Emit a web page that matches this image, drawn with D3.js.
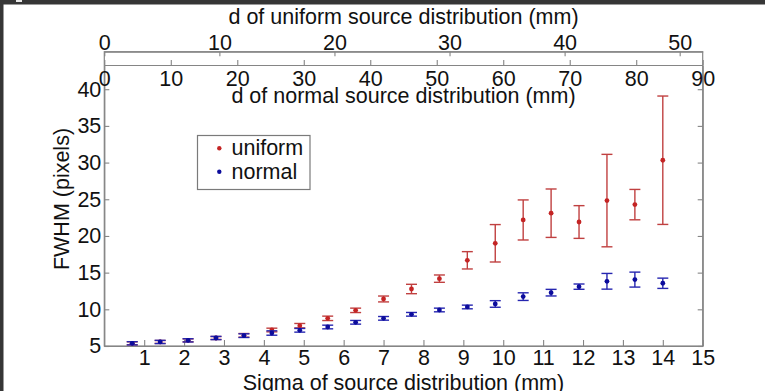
<!DOCTYPE html>
<html>
<head>
<meta charset="utf-8">
<script src="https://cdn.jsdelivr.net/npm/d3@7"></script>
<style>
  html, body { margin: 0; padding: 0; background: #ffffff; }
  svg { display: block; }
  text { font-family: "Liberation Sans", Arial, Helvetica, sans-serif; fill: #111111; }
</style>
</head>
<body>
<svg id="chart" width="765" height="391"></svg>
<script>
// Source width (sigma) in mm at which the FWHM was measured
const sigma = [0.7, 1.4, 2.1, 2.8, 3.5, 4.2, 4.9, 5.6, 6.3, 7.0,
               7.7, 8.4, 9.1, 9.8, 10.5, 11.2, 11.9, 12.6, 13.3, 14.0];

// FWHM (pixels) and its error for the uniform source distribution
const uniformFwhm = [5.37, 5.55, 5.77, 6.09, 6.45, 7.18, 7.77, 8.77, 9.86, 11.41,
                     12.77, 14.18, 16.68, 19.0, 22.18, 23.1, 21.9, 24.82, 24.27, 30.32];
const uniformErr  = [0.2, 0.2, 0.2, 0.2, 0.25, 0.25, 0.3, 0.3, 0.3, 0.4,
                     0.64, 0.5, 1.18, 2.55, 2.73, 3.3, 2.23, 6.3, 2.07, 8.75];

// FWHM (pixels) and its error for the normal source distribution
const normalFwhm = [5.37, 5.55, 5.77, 6.09, 6.41, 6.77, 7.14, 7.59, 8.23, 8.77,
                    9.32, 9.91, 10.32, 10.73, 11.73, 12.27, 13.09, 13.82, 14.05, 13.55];
const normalErr  = [0.22, 0.22, 0.22, 0.22, 0.25, 0.3, 0.25, 0.25, 0.25, 0.25,
                    0.25, 0.25, 0.25, 0.45, 0.52, 0.45, 0.36, 1.07, 1.02, 0.7];

// Axis ranges and tick values
const sigmaDomain    = [0, 15];
const normalDDomain  = [0, 90];
const uniformDDomain = [0, 52];
const fwhmDomain     = [5, 43.3];
const sigmaTicks     = [1, 2, 3, 4, 5, 6, 7, 8, 9, 10, 11, 12, 13, 14, 15];
const normalDTicks   = [0, 10, 20, 30, 40, 50, 60, 70, 80, 90];
const uniformDTicks  = [0, 10, 20, 30, 40, 50];
const fwhmTicks      = [5, 10, 15, 20, 25, 30, 35, 40];

const seriesNames = ["uniform", "normal"];
const seriesColors = { uniform: "#c42424", normal: "#0c0c9c" };
const barColors    = { uniform: "#c04040", normal: "#2626b0" };

// Plot frame
const L = 104.3, R = 702.7, T = 65, B = 346, UT = 51.7;
const FS = 21.5;
const axisColor = "#858585";

const svg = d3.select("#chart");

// dark window frame along the top and left edges
svg.append("rect").attr("x", 0).attr("y", 0).attr("width", 765).attr("height", 4.5).attr("fill", "#363636");
svg.append("rect").attr("x", 0).attr("y", 0).attr("width", 3.5).attr("height", 391).attr("fill", "#363636");
svg.append("rect").attr("x", 16).attr("y", 0).attr("width", 6).attr("height", 2).attr("fill", "#e8e8e8");

const x  = d3.scaleLinear().domain(sigmaDomain).range([L, R]);
const xn = d3.scaleLinear().domain(normalDDomain).range([L, R]);
const xu = d3.scaleLinear().domain(uniformDDomain).range([L, R]);
const y  = d3.scaleLinear().domain(fwhmDomain).range([B, T]);

function styleAxis(g) {
  g.select(".domain").attr("stroke", axisColor).attr("stroke-width", 1.2);
  g.selectAll(".tick line").attr("stroke", axisColor).attr("stroke-width", 1.1);
  g.selectAll(".tick text").attr("font-size", FS).attr("fill", "#111111")
    .attr("font-family", '"Liberation Sans", Arial, sans-serif');
}

// outer frame: uniform-d strip on top plus the main plotting box
svg.append("rect").attr("x", L).attr("y", UT).attr("width", R - L).attr("height", B - UT)
  .attr("fill", "none").attr("stroke", axisColor).attr("stroke-width", 1.2);

// bottom sigma axis
svg.append("g").attr("transform", `translate(0,${B})`)
  .call(d3.axisBottom(x).tickValues(sigmaTicks).tickSizeInner(-6).tickSizeOuter(0).tickPadding(4).tickFormat(d3.format("d")))
  .call(styleAxis);

// left FWHM axis
svg.append("g").attr("transform", `translate(${L},0)`)
  .call(d3.axisLeft(y).tickValues(fwhmTicks).tickSizeInner(-5).tickSizeOuter(0).tickPadding(3).tickFormat(d3.format("d")))
  .call(styleAxis);

// right FWHM axis (ticks only)
svg.append("g").attr("transform", `translate(${R},0)`)
  .call(d3.axisRight(y).tickValues(fwhmTicks).tickSizeInner(-5).tickSizeOuter(0).tickFormat(""))
  .call(styleAxis);

// normal-distribution d axis along the top of the plot, labels inside
svg.append("g").attr("transform", `translate(0,${T})`)
  .call(d3.axisBottom(xn).tickValues(normalDTicks).tickSizeInner(-5).tickSizeOuter(0).tickPadding(6))
  .call(styleAxis);

// uniform-distribution d axis on the strip above
svg.append("g").attr("transform", `translate(0,${UT})`)
  .call(d3.axisTop(xu).tickValues(uniformDTicks).tickSizeInner(-4.5).tickSizeOuter(0).tickPadding(2))
  .call(styleAxis);

// axis titles
const cx = (L + R) / 2;
svg.append("text").attr("x", cx).attr("y", 24).attr("text-anchor", "middle").attr("font-size", FS)
  .text("d of uniform source distribution (mm)");
svg.append("text").attr("x", cx).attr("y", 103).attr("text-anchor", "middle").attr("font-size", FS)
  .text("d of normal source distribution (mm)");
svg.append("text").attr("x", cx).attr("y", 390).attr("text-anchor", "middle").attr("font-size", FS)
  .text("Sigma of source distribution (mm)");
svg.append("text").attr("transform", "translate(69,199) rotate(-90)").attr("text-anchor", "middle").attr("font-size", FS)
  .text("FWHM (pixels)");

// error bars and points
const series = {
  uniform: sigma.map((s, i) => ({ s, v: uniformFwhm[i], e: uniformErr[i] })),
  normal:  sigma.map((s, i) => ({ s, v: normalFwhm[i],  e: normalErr[i] }))
};
const cap = 5.5;

seriesNames.forEach(name => {
  const g = svg.append("g").attr("class", "series-" + name);
  const pts = g.selectAll("g.pt").data(series[name]).join("g").attr("class", "pt");
  pts.append("line")
    .attr("x1", d => x(d.s)).attr("x2", d => x(d.s))
    .attr("y1", d => y(d.v - d.e)).attr("y2", d => y(d.v + d.e))
    .attr("stroke", barColors[name]).attr("stroke-width", 1.4);
  pts.append("line")
    .attr("x1", d => x(d.s) - cap).attr("x2", d => x(d.s) + cap)
    .attr("y1", d => y(d.v + d.e)).attr("y2", d => y(d.v + d.e))
    .attr("stroke", barColors[name]).attr("stroke-width", 1.4);
  pts.append("line")
    .attr("x1", d => x(d.s) - cap).attr("x2", d => x(d.s) + cap)
    .attr("y1", d => y(d.v - d.e)).attr("y2", d => y(d.v - d.e))
    .attr("stroke", barColors[name]).attr("stroke-width", 1.4);
  pts.append("circle")
    .attr("cx", d => x(d.s)).attr("cy", d => y(d.v)).attr("r", 2.4)
    .attr("fill", seriesColors[name]);
});

// legend
const lg = svg.append("g");
lg.append("rect").attr("x", 197.5).attr("y", 135.5).attr("width", 112.5).attr("height", 54)
  .attr("fill", "#ffffff").attr("stroke", "#7a7a7a").attr("stroke-width", 1.2);
seriesNames.forEach((name, i) => {
  const cy = 148.3 + i * 23.4;
  lg.append("circle").attr("cx", 219.3).attr("cy", cy).attr("r", 2.2).attr("fill", seriesColors[name]);
  lg.append("text").attr("x", 231.5).attr("y", cy + 7).attr("font-size", FS).text(name);
});
</script>
</body>
</html>
